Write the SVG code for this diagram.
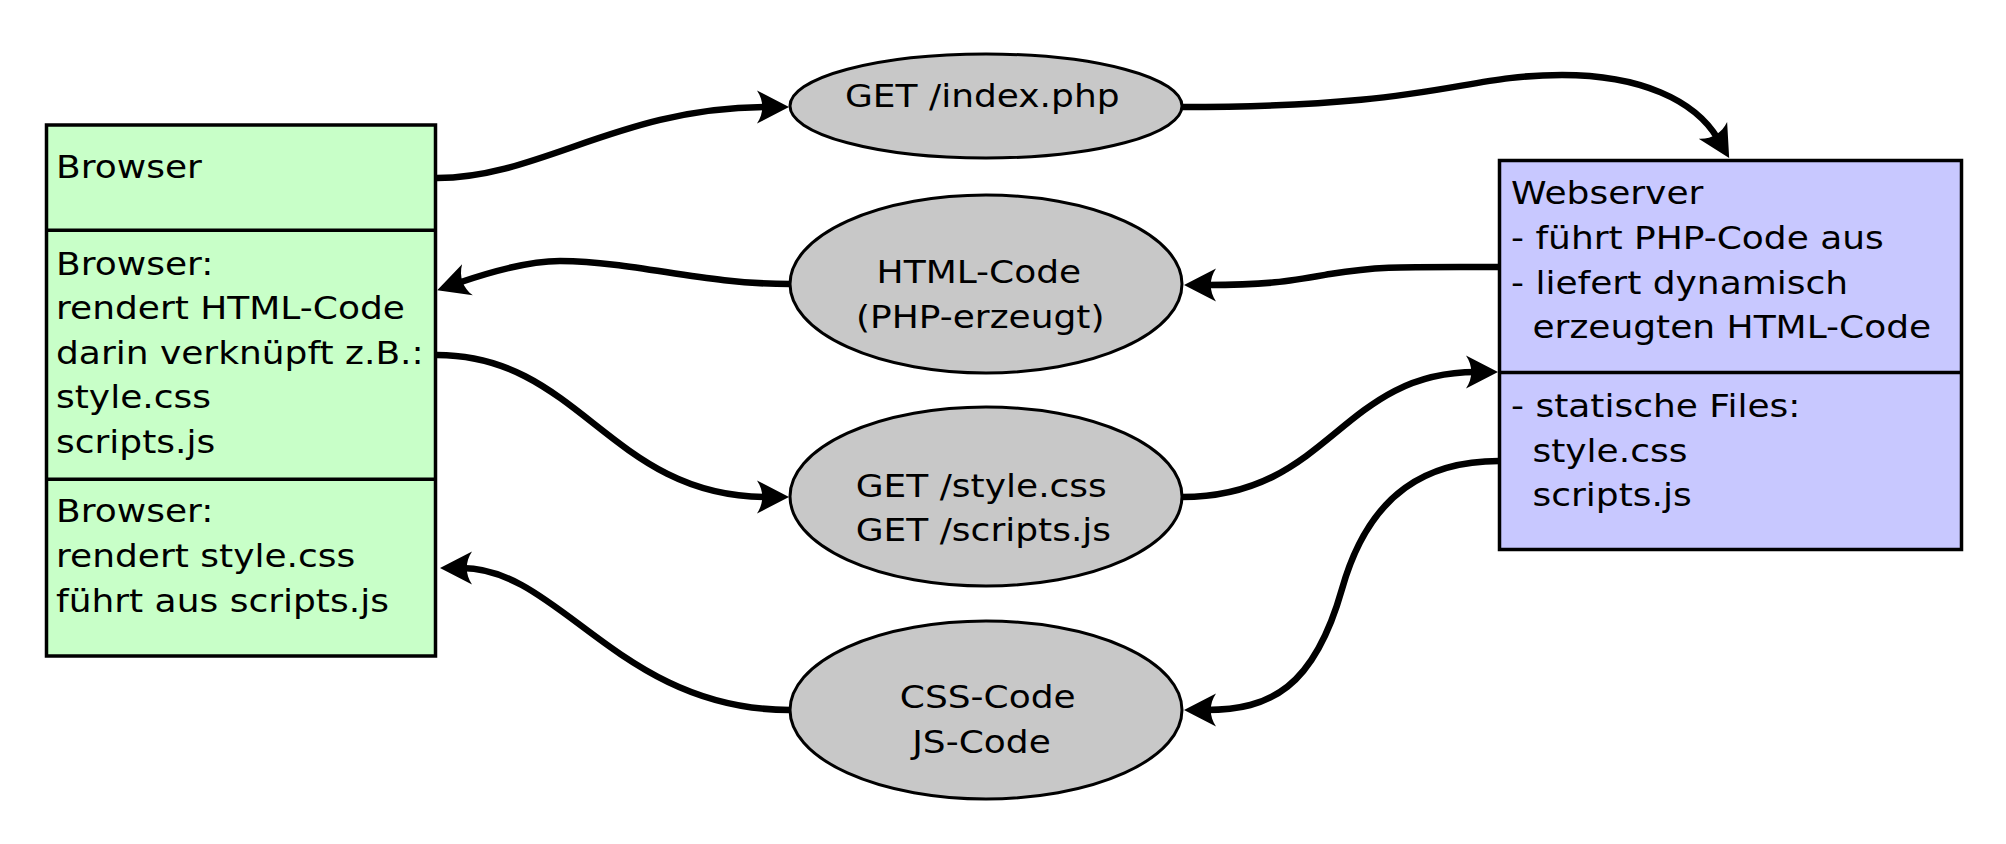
<svg xmlns="http://www.w3.org/2000/svg" width="2006" height="844" viewBox="0 0 2006 844">
<style>
.box{stroke:#000;stroke-width:3.5}
.div{stroke:#000;stroke-width:3.5;fill:none}
.ell{fill:#c8c8c8;stroke:#000;stroke-width:3}
.con{fill:none;stroke:#000;stroke-width:6.5;marker-end:url(#arr)}
text{font-family:"DejaVu Sans","Liberation Sans",sans-serif;font-size:32px;fill:#000}
</style>
<defs>
<marker id="arr" markerUnits="userSpaceOnUse" viewBox="-30 -30 60 60" markerWidth="60" markerHeight="60" refX="0" refY="0" orient="auto" overflow="visible">
<path d="M22,0 L-10,-16.5 C-3,-6 -3,6 -10,16.5 Z" fill="#000"/>
</marker>
</defs>
<rect width="2006" height="844" fill="#fff"/>
<g id="connectors">
<path class="con" d="M437,178 C540,178 620,107 767,107"/>
<path class="con" d="M1182,107 C1439,107 1460,75 1562,75 C1640,75 1695,100 1718,139"/>
<path class="con" d="M1499,267 C1400,267 1380,266 1330,274 C1290,281 1270,285 1206,285"/>
<path class="con" d="M790,284 C700,284 640,262 560,261 C530,261 490,272 458,283"/>
<path class="con" d="M437,355 C580,355 610,497 767,497"/>
<path class="con" d="M790,710 C620,710 560,568 462,568"/>
<path class="con" d="M1182,497 C1330,497 1340,372 1476,372"/>
<path class="con" d="M1499,461 C1430,461 1370,490 1342,589 C1314,688 1270,710 1206,710"/>
</g>
<g id="browser">
<rect class="box" x="46.5" y="125" width="389" height="531" fill="#c8ffc8"/>
<line class="div" x1="46.5" y1="230.3" x2="435.5" y2="230.3"/>
<line class="div" x1="46.5" y1="479.3" x2="435.5" y2="479.3"/>
<g transform="scale(1.125 1)">
<text x="49.78" y="178">Browser</text>
<text x="49.78" y="275">Browser:</text>
<text x="49.78" y="319.5">rendert HTML-Code</text>
<text x="49.78" y="364">darin verknüpft z.B.:</text>
<text x="49.78" y="408.5">style.css</text>
<text x="49.78" y="453">scripts.js</text>
<text x="49.78" y="522">Browser:</text>
<text x="49.78" y="567">rendert style.css</text>
<text x="49.78" y="612">führt aus scripts.js</text>
</g>
</g>
<g id="webserver">
<rect class="box" x="1499.5" y="160.5" width="462" height="389" fill="#c8c8ff"/>
<line class="div" x1="1499.5" y1="372.5" x2="1961.5" y2="372.5"/>
<g transform="scale(1.125 1)">
<text x="1343.1" y="204">Webserver</text>
<text x="1343.1" y="249">- führt PHP-Code aus</text>
<text x="1343.1" y="294">- liefert dynamisch</text>
<text x="1362.2" y="338">erzeugten HTML-Code</text>
<text x="1343.1" y="416.7">- statische Files:</text>
<text x="1362.2" y="461.7">style.css</text>
<text x="1362.2" y="506">scripts.js</text>
</g>
</g>
<g id="get-index">
<ellipse class="ell" cx="986" cy="106" rx="196" ry="52"/>
<text transform="scale(1.125 1)" x="751.1" y="106.7">GET /index.php</text>
</g>
<g id="html-code">
<ellipse class="ell" cx="986" cy="284" rx="196" ry="89"/>
<g transform="scale(1.125 1)">
<text x="779.2" y="283.3">HTML-Code</text>
<text x="760.9" y="328">(PHP-erzeugt)</text>
</g>
</g>
<g id="get-static">
<ellipse class="ell" cx="986" cy="496.5" rx="196" ry="89.5"/>
<g transform="scale(1.125 1)">
<text x="760.6" y="496.7">GET /style.css</text>
<text x="760.6" y="540.7">GET /scripts.js</text>
</g>
</g>
<g id="css-js-code">
<ellipse class="ell" cx="986" cy="710" rx="196" ry="89"/>
<g transform="scale(1.125 1)">
<text x="799.8" y="708.3">CSS-Code</text>
<text x="810.9" y="753.3">JS-Code</text>
</g>
</g>
</svg>
